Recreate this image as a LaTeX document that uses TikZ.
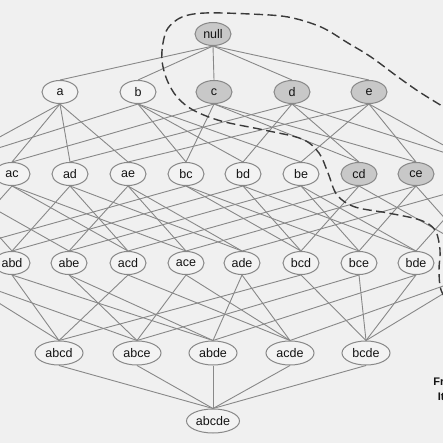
\documentclass[tikz,border=0pt]{standalone}
\usepackage{fontspec}
\setmainfont{Liberation Sans}
\usetikzlibrary{shapes.geometric}
\pgfdeclarelayer{bg}
\pgfsetlayers{bg,main}
\definecolor{bgc}{HTML}{F0F0F0}
\definecolor{plainfill}{HTML}{F3F3F3}
\definecolor{freqfill}{HTML}{C8C8C8}
\definecolor{bordc}{HTML}{888888}
\definecolor{edgec}{HTML}{888888}
\definecolor{txtc}{HTML}{141414}
\definecolor{dashc}{HTML}{3A3A3A}
\tikzset{
  itm/.style={ellipse, draw=bordc, line width=1pt, fill=plainfill, inner sep=0pt,
    minimum width=36pt, minimum height=23pt, text=txtc, font=\fontsize{12.5}{14}\selectfont},
  frq/.style={itm, fill=freqfill},
  wide/.style={minimum width=48pt, minimum height=24pt},
  wider/.style={minimum width=53pt, minimum height=24pt},
  edge/.style={draw=edgec, line width=0.9pt},
  border/.style={draw=dashc, line width=1.4pt, dash pattern=on 9pt off 4.5pt},
  lbl/.style={text=txtc, font=\bfseries\fontsize{11}{15}\selectfont, align=center}
}
\begin{document}
\begin{tikzpicture}[x=1pt,y=-1pt]
\useasboundingbox (0,0) rectangle (443,443);
\clip (0,0) rectangle (443,443);
% row 0
\node[frq] (null) at (213,34) {null};
% row 1
\node[itm] (a) at (60,92) {a};
\node[itm] (b) at (138,92) {b};
\node[frq] (c) at (214,92) {c};
\node[frq] (d) at (292,92) {d};
\node[frq] (e) at (369,92) {e};
% row 2
\node[itm] (ab) at (-46,174) {ab};
\node[itm] (ac) at (12,174) {ac};
\node[itm] (ad) at (70,174) {ad};
\node[itm] (ae) at (128,174) {ae};
\node[itm] (bc) at (186,174) {bc};
\node[itm] (bd) at (243,174) {bd};
\node[itm] (be) at (301,174) {be};
\node[frq] (cd) at (359,174) {cd};
\node[frq] (ce) at (416,174) {ce};
\node[frq] (de) at (474,174) {de};
% row 3
\node[itm] (abc) at (-46,263) {abc};
\node[itm] (abd) at (12,263) {abd};
\node[itm] (abe) at (69,263) {abe};
\node[itm] (acd) at (128,263) {acd};
\node[itm] (ace) at (186,263) {ace};
\node[itm] (ade) at (242,263) {ade};
\node[itm] (bcd) at (301,263) {bcd};
\node[itm] (bce) at (359,263) {bce};
\node[itm] (bde) at (416,263) {bde};
\node[frq] (cde) at (474,263) {cde};
% row 4
\node[itm,wide] (abcd) at (59,353) {abcd};
\node[itm,wide] (abce) at (137,353) {abce};
\node[itm,wide] (abde) at (213,353) {abde};
\node[itm,wide] (acde) at (290,353) {acde};
\node[itm,wide] (bcde) at (366,353) {bcde};
% row 5
\node[itm,wider] (abcde) at (213,421) {abcde};
% label
\node[lbl] (fi) at (457,389) {Frequent\\Itemset};
\begin{pgfonlayer}{bg}
\clip (0,0) rectangle (443,443);
\fill[bgc] (0,0) rectangle (443,443);
\foreach \p/\q in {null/a,null/b,null/c,null/d,null/e,
  a/ab,a/ac,a/ad,a/ae,b/ab,b/bc,b/bd,b/be,c/ac,c/bc,c/cd,c/ce,d/ad,d/bd,d/cd,d/de,e/ae,e/be,e/ce,e/de,
  ab/abc,ab/abd,ab/abe,ac/abc,ac/acd,ac/ace,ad/abd,ad/acd,ad/ade,ae/abe,ae/ace,ae/ade,
  bc/abc,bc/bcd,bc/bce,bd/abd,bd/bcd,bd/bde,be/abe,be/bce,be/bde,cd/acd,cd/bcd,cd/cde,
  ce/ace,ce/bce,ce/cde,de/ade,de/bde,de/cde,
  abc/abcd,abc/abce,abd/abcd,abd/abde,abe/abce,abe/abde,acd/abcd,acd/acde,ace/abce,ace/acde,
  ade/abde,ade/acde,bcd/abcd,bcd/bcde,bce/abce,bce/bcde,bde/abde,bde/bcde,cde/acde,cde/bcde,
  abcd/abcde,abce/abcde,abde/abcde,acde/abcde,bcde/abcde}
  \draw[edge] (\p.south) -- (\q.north);
\end{pgfonlayer}
% frequent itemset border
\draw[border] plot[smooth, tension=0.55] coordinates {
  (452,112) (421,93) (398,77) (371,57) (348,43) (321,27) (288,17) (250,14) (205,13)
  (182,17) (168,28) (163,43) (162,61) (167,80) (177,97) (193,110) (221,121) (264,130)
  (302,139) (319,153) (328,173) (337,195) (355,207) (388,213) (420,220) (435,230)
  (440,250) (439,270) (441,290) (452,308)};
\end{tikzpicture}
\end{document}
